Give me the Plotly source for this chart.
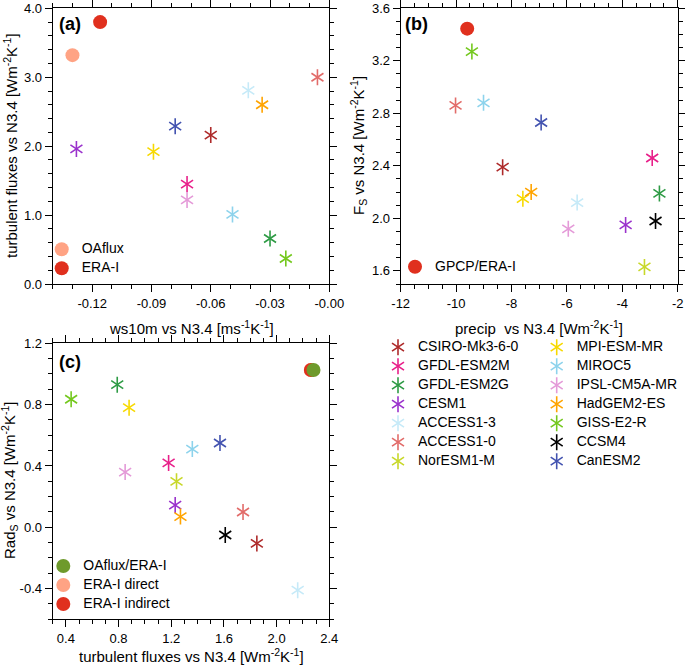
import numpy as np
import plotly.graph_objects as go

# ---------------- data ----------------
models = ["CSIRO-Mk3-6-0", "GFDL-ESM2M", "GFDL-ESM2G", "CESM1", "ACCESS1-3",
          "ACCESS1-0", "NorESM1-M", "MPI-ESM-MR", "MIROC5", "IPSL-CM5A-MR",
          "HadGEM2-ES", "GISS-E2-R", "CCSM4", "CanESM2"]

# panel (a): ws10m vs N3.4 (x), turbulent fluxes vs N3.4 (y)
a_ws10m = [-0.060, -0.072, -0.030, -0.128, -0.041, -0.006, None,
           -0.089, -0.049, -0.072, -0.034, -0.022, None, -0.078]
a_turb = [2.16, 1.45, 0.66, 1.96, 2.81, 3.00, None,
          1.92, 1.01, 1.22, 2.60, 0.37, None, 2.29]

# panel (b): precip vs N3.4 (x), F_S vs N3.4 (y)
b_precip = [-8.32, -2.92, -2.66, -3.88, -5.63, -10.02, -3.20,
            -7.59, -9.01, -5.95, -7.29, -9.43, -2.80, -6.93]
b_fs = [2.39, 2.46, 2.19, 1.95, 2.12, 2.86, 1.63,
        2.15, 2.88, 1.92, 2.20, 3.27, 1.98, 2.73]

# panel (c): turbulent fluxes vs N3.4 (x), Rad_S vs N3.4 (y)
c_turb = [1.85, 1.18, 0.79, 1.23, 2.16, 1.745, 1.24,
          0.88, 1.36, 0.85, 1.27, 0.44, 1.61, 1.57]
c_rads = [-0.105, 0.42, 0.93, 0.145, -0.41, 0.10, 0.30,
          0.78, 0.51, 0.36, 0.07, 0.835, -0.05, 0.55]

# observations
obs_a_names = ["OAflux", "ERA-I"]
obs_a_x = [-0.130, -0.116]
obs_a_y = [3.32, 3.80]

obs_b_names = ["GPCP/ERA-I"]
obs_b_x = [-9.60]
obs_b_y = [3.445]

obs_c_names = ["OAflux/ERA-I", "ERA-I direct", "ERA-I indirect"]
obs_c_x = [2.28, 2.26, 2.26]
obs_c_y = [1.026, 1.026, 1.026]

# tick labels
a_xticks = [-0.12, -0.09, -0.06, -0.03, 0.0]
a_xticklabels = ["-0.12", "-0.09", "-0.06", "-0.03", "-0.00"]
a_yticks = [0, 1, 2, 3, 4]
a_yticklabels = ["0.0", "1.0", "2.0", "3.0", "4.0"]
b_xticks = [-12, -10, -8, -6, -4, -2]
b_xticklabels = ["-12", "-10", "-8", "-6", "-4", "-2"]
b_yticks = [1.6, 2.0, 2.4, 2.8, 3.2, 3.6]
b_yticklabels = ["1.6", "2.0", "2.4", "2.8", "3.2", "3.6"]
c_xticks = [0.4, 0.8, 1.2, 1.6, 2.0, 2.4]
c_xticklabels = ["0.4", "0.8", "1.2", "1.6", "2.0", "2.4"]
c_yticks = [-0.4, 0.0, 0.4, 0.8, 1.2]
c_yticklabels = ["-0.4", "0.0", "0.4", "0.8", "1.2"]

# ---------------- styles ----------------
model_colors = ["#AE2A2A", "#E8208A", "#2E9B45", "#9A32CC", "#C6EAF8",
                "#E26C6A", "#C8D82A", "#F7D900", "#8DD3EC", "#E49AD8",
                "#FFA400", "#74C81E", "#000000", "#4353B0"]
obs_a_colors = ["#FFA384", "#E0301E"]
obs_b_colors = ["#E0301E"]
obs_c_colors = ["#6E9A2C", "#FFA384", "#E0301E"]

W, H = 685, 665
FONT = "Liberation Sans, Arial, Helvetica, sans-serif"


def px(p):
    return p / W


def py(p):
    return 1 - p / H


def lbl(s):
    return '<span style="font-size:14px">' + s + '</span>'


fig = go.Figure()

panels = [("x", "y", a_ws10m, a_turb), ("x2", "y2", b_precip, b_fs), ("x3", "y3", c_turb, c_rads)]
for pi, (xa, ya, xs, ys) in enumerate(panels):
    for i, m in enumerate(models):
        if xs[i] is None or ys[i] is None:
            continue
        col = i // 7
        for k, sym in enumerate(["y-up-open", "y-down-open"]):
            show = (pi == 1)
            legname = ["legend4", "legend5"][col] if k == 0 else ["legend6", "legend7"][col]
            fig.add_trace(go.Scatter(
                x=[xs[i]], y=[ys[i]], xaxis=xa, yaxis=ya, mode="markers",
                name=lbl(m) if k == 0 else " ",
                legend=legname, showlegend=show,
                marker=dict(symbol=sym, size=10, color=model_colors[i],
                            line=dict(color=model_colors[i], width=1.6)),
            ))

# observations
for j, n in enumerate(obs_a_names):
    fig.add_trace(go.Scatter(x=[obs_a_x[j]], y=[obs_a_y[j]], xaxis="x", yaxis="y",
                             mode="markers", name=lbl(n), legend="legend",
                             marker=dict(symbol="circle", size=14, color=obs_a_colors[j],
                                         line=dict(width=0))))
for j, n in enumerate(obs_b_names):
    fig.add_trace(go.Scatter(x=[obs_b_x[j]], y=[obs_b_y[j]], xaxis="x2", yaxis="y2",
                             mode="markers", name=lbl(n), legend="legend2",
                             marker=dict(symbol="circle", size=14, color=obs_b_colors[j],
                                         line=dict(width=0))))
for j in [1, 2, 0]:
    fig.add_trace(go.Scatter(x=[obs_c_x[j]], y=[obs_c_y[j]], xaxis="x3", yaxis="y3",
                             mode="markers", name=lbl(obs_c_names[j]), legend="legend3",
                             legendrank=j + 1,
                             marker=dict(symbol="circle", size=14, color=obs_c_colors[j],
                                         line=dict(width=0))))


def axis(domain, anchor, rng, tickvals, ticktext, minor_step):
    minor_vals = [round(v, 4) for v in np.arange(rng[0], rng[1] + minor_step / 2, minor_step)]
    return dict(domain=domain, anchor=anchor, range=rng, tickmode="array",
                tickvals=tickvals, ticktext=ticktext,
                showline=True, linecolor="black", linewidth=1.2, mirror="allticks",
                ticks="outside", ticklen=7, tickwidth=1, tickcolor="black",
                showgrid=False, zeroline=False, fixedrange=True,
                tickfont=dict(size=13, color="black", family=FONT),
                minor=dict(ticks="outside", ticklen=4, tickwidth=1, tickcolor="black",
                           tickmode="array", tickvals=minor_vals, showgrid=False))


xa_dom = [px(52.7), px(329.3)]
xb_dom = [px(400.7), px(677.7)]
ytop_dom = [py(284), py(8.3)]
ybot_dom = [py(619.3), py(343.3)]

leg_common = dict(xanchor="left", yanchor="top", bgcolor="rgba(0,0,0,0)",
                  borderwidth=0, font=dict(size=11, color="black", family=FONT),
                  orientation="v")
leg_ghost = dict(leg_common, font=dict(size=11, color="rgba(0,0,0,0)", family=FONT))

fig.update_layout(
    width=W, height=H, autosize=False,
    margin=dict(l=0, r=0, t=0, b=0, autoexpand=False),
    paper_bgcolor="white", plot_bgcolor="white",
    font=dict(family=FONT, color="black"),
    hovermode=False,
    xaxis=axis(xa_dom, "y", [-0.14, 0.0], a_xticks, a_xticklabels, 0.01),
    yaxis=axis(ytop_dom, "x", [0, 4], a_yticks, a_yticklabels, 0.2),
    xaxis2=axis(xb_dom, "y2", [-12, -2], b_xticks, b_xticklabels, 0.5),
    yaxis2=axis(ytop_dom, "x2", [1.5, 3.6], b_yticks, b_yticklabels, 0.1),
    xaxis3=axis(xa_dom, "y3", [0.3, 2.4], c_xticks, c_xticklabels, 0.1),
    yaxis3=axis(ybot_dom, "x3", [-0.6, 1.2], c_yticks, c_yticklabels, 0.1),
    legend=dict(x=px(41.7), y=py(234.7), **leg_common),
    legend2=dict(x=px(395), y=py(252.2), **leg_common),
    legend3=dict(x=px(43.3), y=py(551.5), **leg_common),
    legend4=dict(x=px(378), y=py(332.7), **leg_common),
    legend5=dict(x=px(536.7), y=py(332.7), **leg_common),
    legend6=dict(x=px(378), y=py(332.7), **leg_ghost),
    legend7=dict(x=px(536.7), y=py(332.7), **leg_ghost),
)

title_font = dict(size=15, color="black", family=FONT)
annots = [
    dict(text="ws10m vs N3.4 [ms<sup>-1</sup>K<sup>-1</sup>]", x=px(191), y=py(327), textangle=0),
    dict(text="precip\u00a0 vs N3.4 [Wm<sup>-2</sup>K<sup>-1</sup>]", x=px(539), y=py(327), textangle=0),
    dict(text="turbulent fluxes vs N3.4 [Wm<sup>-2</sup>K<sup>-1</sup>]", x=px(191), y=py(655), textangle=0),
    dict(text="turbulent fluxes vs N3.4 [Wm<sup>-2</sup>K<sup>-1</sup>]", x=px(10), y=py(146), textangle=-90),
    dict(text="F<sub>S</sub> vs N3.4 [Wm<sup>-2</sup>K<sup>-1</sup>]", x=px(358), y=py(146), textangle=-90),
    dict(text="Rad<sub>S</sub> vs N3.4 [Wm<sup>-2</sup>K<sup>-1</sup>]", x=px(10), y=py(481), textangle=-90),
]
for a in annots:
    fig.add_annotation(xref="paper", yref="paper", showarrow=False,
                       xanchor="center", yanchor="middle", font=title_font, **a)

for t, xp, yp in [("(a)", 57, 23.5), ("(b)", 403.3, 23.5), ("(c)", 57, 361.7)]:
    fig.add_annotation(xref="paper", yref="paper", showarrow=False, text="<b>" + t + "</b>",
                       x=px(xp), y=py(yp), xanchor="left", yanchor="middle",
                       font=dict(size=18, color="black", family=FONT))

# the page's default body margin would shift the chart; remove it
fig.write_html("out.html", config={"displayModeBar": False},
               post_script="document.body.style.margin='0px';document.body.style.overflow='hidden';")
